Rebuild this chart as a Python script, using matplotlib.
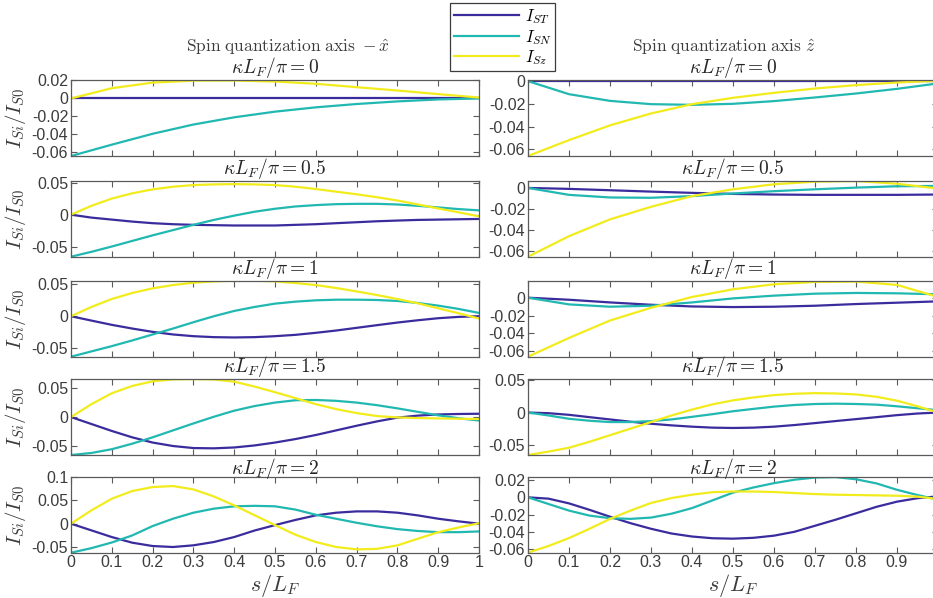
import numpy as np
import matplotlib
matplotlib.use('Agg')
import matplotlib.pyplot as plt

plt.rcParams['mathtext.fontset'] = 'cm'
plt.rcParams['font.family'] = ['Liberation Sans', 'DejaVu Sans']
plt.rcParams['axes.unicode_minus'] = False

# positions along the ferromagnet
s11 = [0.0, 0.1, 0.2, 0.3, 0.4, 0.5, 0.6, 0.7, 0.8, 0.9, 1.0]
s21 = [0.0, 0.05, 0.1, 0.15, 0.2, 0.25, 0.3, 0.35, 0.4, 0.45, 0.5,
       0.55, 0.6, 0.65, 0.7, 0.75, 0.8, 0.85, 0.9, 0.95, 1.0]

kappa_labels = ['0', '0.5', '1', '1.5', '2']
series_labels = [r'$I_{ST}$', r'$I_{SN}$', r'$I_{Sz}$']
column_titles = [r'$\mathrm{Spin\ quantization\ axis}\ -\hat{x}$',
                 r'$\mathrm{Spin\ quantization\ axis}\ \hat{z}$']

# ---- spin quantization axis -x ----
lx0_st = [0.0, 0.0, 0.0, 0.0, 0.0, 0.0, 0.0, 0.0, 0.0, 0.0, 0.0]
lx0_sn = [-0.064, -0.0514, -0.0393, -0.029, -0.021, -0.0147, -0.0099, -0.0062, -0.0033, -0.0011, 0.0]
lx0_sz = [0.0, 0.0114, 0.0176, 0.0198, 0.0199, 0.0188, 0.0163, 0.0125, 0.0088, 0.0048, 0.001]

lx05_st = [0.0, -0.0046, -0.0077, -0.0108, -0.0133, -0.0149, -0.0159, -0.0164, -0.0169, -0.0169, -0.0169,
           -0.0159, -0.0149, -0.0133, -0.0118, -0.0103, -0.0092, -0.0082, -0.0077, -0.0072, -0.0067]
lx05_sn = [-0.0656, -0.058, -0.0497, -0.041, -0.0323, -0.0241, -0.0159, -0.0082, -0.0015, 0.0046, 0.0092,
           0.0128, 0.0149, 0.0164, 0.0169, 0.0169, 0.0159, 0.0138, 0.0113, 0.0087, 0.0067]
lx05_sz = [0.0, 0.0138, 0.0251, 0.0333, 0.0395, 0.0436, 0.0462, 0.0472, 0.0477, 0.0472, 0.0462,
           0.0436, 0.040, 0.0359, 0.0318, 0.0272, 0.0221, 0.0159, 0.0097, 0.0036, -0.0026]

lx1_st = [0.0, -0.0068, -0.0135, -0.0193, -0.0245, -0.0286, -0.0313, -0.0328, -0.0333, -0.0328, -0.0313,
          -0.0292, -0.026, -0.0224, -0.0182, -0.014, -0.0099, -0.0063, -0.0031, -0.001, 0.0]
lx1_sn = [-0.0635, -0.0552, -0.0469, -0.038, -0.0286, -0.0193, -0.0094, 0.0, 0.0083, 0.0146, 0.0198,
          0.0229, 0.025, 0.026, 0.026, 0.0255, 0.024, 0.0208, 0.0167, 0.0115, 0.0052]
lx1_sz = [0.0, 0.0146, 0.0271, 0.0365, 0.0438, 0.049, 0.0526, 0.0547, 0.0557, 0.0557, 0.0547,
          0.0521, 0.049, 0.0443, 0.039, 0.0333, 0.027, 0.0203, 0.0125, 0.0047, -0.0036]

lx15_st = [0.0, -0.012, -0.024, -0.035, -0.044, -0.05, -0.0535, -0.054, -0.0525, -0.049, -0.044,
           -0.038, -0.031, -0.023, -0.015, -0.0075, -0.001, 0.0025, 0.0045, 0.0053, 0.0057]
lx15_sn = [-0.0655, -0.062, -0.0555, -0.046, -0.035, -0.023, -0.011, 0.0005, 0.011, 0.019, 0.025,
           0.029, 0.0295, 0.028, 0.025, 0.0205, 0.015, 0.009, 0.003, -0.002, -0.006]
lx15_sz = [0.0, 0.0223, 0.0411, 0.0537, 0.0617, 0.065, 0.0655, 0.0648, 0.0611, 0.0526, 0.0429,
           0.0326, 0.0223, 0.0137, 0.0069, 0.0017, -0.0006, -0.0017, -0.0023, -0.0029, -0.0034]

lx2_st = [0.0, -0.0142, -0.0284, -0.0404, -0.0475, -0.0496, -0.046, -0.039, -0.0284, -0.0145, -0.003,
          0.008, 0.0177, 0.0234, 0.0262, 0.0262, 0.0234, 0.0177, 0.0106, 0.005, 0.0]
lx2_sn = [-0.0617, -0.052, -0.040, -0.025, -0.005, 0.0106, 0.0234, 0.032, 0.037, 0.038, 0.037,
          0.030, 0.019, 0.0105, 0.002, -0.0055, -0.0115, -0.0155, -0.018, -0.018, -0.0165]
lx2_sz = [0.0, 0.0284, 0.0532, 0.0695, 0.078, 0.0801, 0.073, 0.058, 0.039, 0.018, -0.003,
          -0.0234, -0.039, -0.0496, -0.0546, -0.0535, -0.0461, -0.032, -0.018, -0.008, 0.001]

# ---- spin quantization axis z ----
rz0_st = [0.0, 0.0, 0.0, 0.0, 0.0, 0.0, 0.0, 0.0, 0.0, 0.0, 0.0]
rz0_sn = [0.0, -0.0115, -0.0174, -0.0203, -0.0209, -0.02, -0.0176, -0.0144, -0.0109, -0.0068, -0.002]
rz0_sz = [-0.066, -0.052, -0.039, -0.0285, -0.0203, -0.0147, -0.0103, -0.0065, -0.0035, -0.0012, 0.0003]

rz05_st = [0.0, -0.0009, -0.0022, -0.0035, -0.0047, -0.0057, -0.0063, -0.0066, -0.0066, -0.0066, -0.0063]
rz05_sn = [0.0, -0.0066, -0.0091, -0.0094, -0.0078, -0.0053, -0.0031, -0.0013, 0.0003, 0.0016, 0.0019]
rz05_sz = [-0.0656, -0.046, -0.030, -0.018, -0.0078, -0.0013, 0.0035, 0.006, 0.0066, 0.004, -0.0006]

rz1_st = [0.0, -0.0023, -0.0053, -0.0079, -0.0098, -0.0105, -0.0101, -0.009, -0.0071, -0.0056, -0.0041]
rz1_sn = [0.0, -0.0075, -0.0101, -0.009, -0.0053, -0.0008, 0.0023, 0.0045, 0.0053, 0.0049, 0.0038]
rz1_sz = [-0.066, -0.045, -0.0255, -0.0113, 0.0008, 0.0094, 0.015, 0.0176, 0.018, 0.0143, 0.0008]

rz15_st = [0.0, -0.001, -0.0035, -0.0071, -0.0106, -0.0141, -0.0172, -0.0197, -0.0217, -0.0232, -0.0237,
           -0.0232, -0.0217, -0.0192, -0.0162, -0.0131, -0.0101, -0.0071, -0.004, -0.0015, 0.0]
rz15_sn = [0.0, -0.0045, -0.0096, -0.0126, -0.0146, -0.0146, -0.0131, -0.0106, -0.0066, -0.0025, 0.002,
           0.0056, 0.0091, 0.0116, 0.0131, 0.0136, 0.0131, 0.0121, 0.0096, 0.0066, 0.0035]
rz15_sz = [-0.0652, -0.060, -0.054, -0.0449, -0.0348, -0.0247, -0.0146, -0.0045, 0.0045, 0.0126, 0.0187,
           0.0232, 0.0268, 0.0288, 0.0298, 0.0293, 0.0278, 0.0242, 0.0182, 0.0096, 0.0]

rz2_st = [0.0, -0.0015, -0.007, -0.0145, -0.0225, -0.030, -0.0365, -0.042, -0.0455, -0.0475, -0.048,
          -0.047, -0.0445, -0.040, -0.033, -0.026, -0.0185, -0.011, -0.005, -0.001, 0.0012]
rz2_sn = [0.0, -0.0077, -0.0154, -0.0212, -0.0242, -0.025, -0.0235, -0.019, -0.0125, -0.0035, 0.0055,
          0.0115, 0.0165, 0.0205, 0.023, 0.0235, 0.021, 0.0162, 0.0088, 0.0027, -0.0027]
rz2_sz = [-0.0642, -0.0565, -0.0473, -0.0365, -0.025, -0.0154, -0.0065, -0.0008, 0.0031, 0.006, 0.0068,
          0.0068, 0.0062, 0.005, 0.0038, 0.0031, 0.0027, 0.0023, 0.0019, 0.0008, -0.0019]

left_panels = [
    (s11, lx0_st, lx0_sn, lx0_sz, (-0.064, 0.0205), [-0.06, -0.04, -0.02, 0, 0.02]),
    (s21, lx05_st, lx05_sn, lx05_sz, (-0.0656, 0.053), [-0.05, 0, 0.05]),
    (s21, lx1_st, lx1_sn, lx1_sz, (-0.0635, 0.0558), [-0.05, 0, 0.05]),
    (s21, lx15_st, lx15_sn, lx15_sz, (-0.0655, 0.0657), [-0.05, 0, 0.05]),
    (s21, lx2_st, lx2_sn, lx2_sz, (-0.0617, 0.1), [-0.05, 0, 0.05, 0.1]),
]
right_panels = [
    (s11, rz0_st, rz0_sn, rz0_sz, (-0.066, 0.001), [-0.06, -0.04, -0.02, 0]),
    (s11, rz05_st, rz05_sn, rz05_sz, (-0.0656, 0.0069), [-0.06, -0.04, -0.02, 0]),
    (s11, rz1_st, rz1_sn, rz1_sz, (-0.066, 0.019), [-0.06, -0.04, -0.02, 0]),
    (s21, rz15_st, rz15_sn, rz15_sz, (-0.0652, 0.0515), [-0.05, 0, 0.05]),
    (s21, rz2_st, rz2_sn, rz2_sz, (-0.0643, 0.024), [-0.06, -0.04, -0.02, 0, 0.02]),
]

colors = ['#3B2C9E', '#22B8B2', '#F2EC1C']
xticks = [0, 0.1, 0.2, 0.3, 0.4, 0.5, 0.6, 0.7, 0.8, 0.9, 1]

W, H = 933.0, 598.0
col_x = [(71, 408), (528, 410)]          # left edge, width in pixels
row_y = [80, 180.7, 280.7, 379, 476.7]     # top edge in pixels
row_h = 76


def style_axes(ax):
    for sp in ax.spines.values():
        sp.set_color('#5a5a5a')
        sp.set_linewidth(0.9)
    ax.tick_params(direction='in', top=True, right=True, length=4.5, width=0.8,
                   color='#5a5a5a', labelsize=11.5, labelcolor='#3c3c3c', pad=2)


def main():
    fig = plt.figure(figsize=(W / 100, H / 100), dpi=100)
    handles = None
    for c, panels in enumerate([left_panels, right_panels]):
        x0, w = col_x[c]
        for r, (s, st, sn, sz, ylim, yt) in enumerate(panels):
            ax = fig.add_axes([x0 / W, 1 - (row_y[r] + row_h) / H, w / W, row_h / H])
            lines = []
            for ys, col, lab in zip([st, sn, sz], colors, series_labels):
                ln, = ax.plot(s, ys, '-', color=col, lw=1.6, label=lab)
                lines.append(ln)
            handles = lines
            ax.set_xlim(0, 1)
            ax.set_ylim(*ylim)
            ax.set_yticks(yt)
            ax.set_yticklabels(['%g' % v for v in yt])
            ax.set_xticks(xticks)
            if r == 4:
                xl = ['%g' % v for v in xticks]
                if c == 1:
                    xl[-1] = ''   # falls outside the figure edge
                ax.set_xticklabels(xl)
                ax.set_xlabel(r'$s/L_F$', fontsize=16, color='#3c3c3c')
                ax.xaxis.set_label_coords(0.5, -0.25)
            else:
                ax.set_xticklabels([])
            if c == 0:
                ax.set_ylabel(r'$I_{Si}/I_{S0}$', fontsize=15, color='#3c3c3c')
                ax.yaxis.set_label_coords(-0.105, 0.5)
            ax.set_title(r'$\kappa L_F/\pi = %s$' % kappa_labels[r], fontsize=14, pad=2,
                         color='#262626')
            style_axes(ax)

    fig.text(288 / W, 1 - 47 / H, column_titles[0], ha='center', va='center',
             fontsize=12.5, color='#3c3c3c')
    fig.text(724 / W, 1 - 47 / H, column_titles[1], ha='center', va='center',
             fontsize=12.5, color='#3c3c3c')

    leg = fig.legend(handles, series_labels, loc='upper center',
                     bbox_to_anchor=(502.5 / W, 1 - 3 / H), fontsize=12,
                     handlelength=3.9, handletextpad=0.35, borderpad=0.25,
                     labelspacing=0.1, borderaxespad=0, fancybox=False, framealpha=1)
    leg.get_frame().set_edgecolor('#3c3c3c')
    leg.get_frame().set_linewidth(0.9)

    fig.savefig('out.png', dpi=100)


if __name__ == "__main__":
    main()
